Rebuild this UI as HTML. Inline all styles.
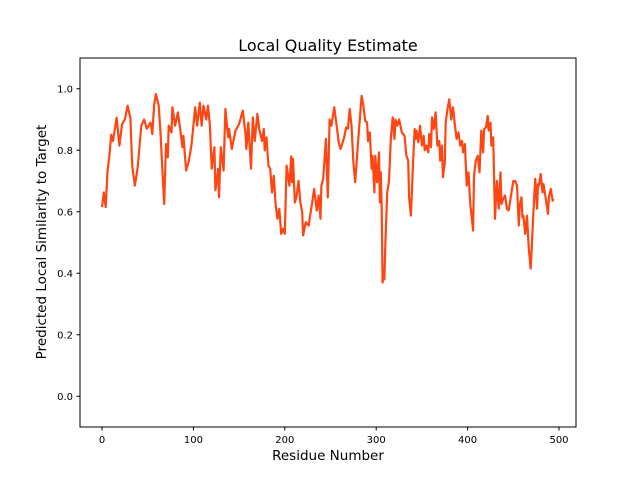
<!DOCTYPE html>
<html><head><meta charset="utf-8"><style>
body{margin:0;background:#fff;}
svg text{font-family:"DejaVu Sans","Liberation Sans",sans-serif;}
</style></head><body>
<svg id="chart" width="640" height="480" xmlns="http://www.w3.org/2000/svg">
<rect width="640" height="480" fill="#fff"/>
<text x="328" y="51" font-size="16" text-anchor="middle">Local Quality Estimate</text>
<g id="plot"></g>
<text x="328" y="460" font-size="13.5" text-anchor="middle">Residue Number</text>
<text x="46" y="242" font-size="13.5" text-anchor="middle" transform="rotate(-90 46 242)">Predicted Local Similarity to Target</text>
</svg>
<script>
const residues=[0,2,4,6,8,10,12,16,19,22,25,28,31,33,36,39,43,46,49,53,55,57,59,62,64,66,68,70,72,73,76,77,80,83,86,88,89,92,95,98,102,104,107,109,111,114,116,118,120,123,124,127,128,130,133,135,138,139,142,146,150,154,157,158,160,163,165,167,170,172,175,177,178,180,182,184,186,188,190,192,194,196,198,200,202,205,207,208,209,211,213,215,217,219,220,223,226,228,230,232,235,237,239,240,242,245,247,249,251,254,257,259,261,265,267,269,271,273,275,277,279,280,282,284,286,288,290,291,293,295,296,298,299,301,303,304,305,306,307,308,309,310,312,314,316,318,320,321,323,325,328,331,333,335,336,338,340,342,343,344,346,348,350,352,353,355,357,358,360,361,363,365,367,369,370,372,373,375,376,378,380,382,384,386,388,390,392,394,395,396,397,399,401,403,406,407,409,411,413,415,417,418,420,422,423,425,426,428,430,432,434,436,437,439,441,443,445,448,450,452,454,456,457,459,460,461,463,465,467,469,470,472,474,476,477,478,480,482,483,485,488,489,491,493,494];
const scores=[0.615,0.663,0.615,0.73,0.78,0.85,0.83,0.906,0.815,0.885,0.90,0.945,0.905,0.75,0.685,0.745,0.88,0.90,0.87,0.89,0.853,0.945,0.983,0.945,0.858,0.74,0.625,0.82,0.777,0.88,0.858,0.94,0.88,0.923,0.858,0.81,0.847,0.734,0.766,0.82,0.94,0.88,0.955,0.88,0.945,0.90,0.945,0.88,0.74,0.81,0.67,0.74,0.647,0.81,0.734,0.934,0.842,0.869,0.804,0.864,0.885,0.929,0.853,0.804,0.89,0.74,0.907,0.83,0.918,0.869,0.83,0.869,0.80,0.842,0.75,0.74,0.663,0.717,0.62,0.577,0.61,0.528,0.545,0.528,0.75,0.685,0.78,0.696,0.772,0.63,0.653,0.70,0.63,0.598,0.523,0.566,0.555,0.593,0.63,0.674,0.604,0.653,0.577,0.685,0.707,0.837,0.647,0.90,0.88,0.94,0.874,0.826,0.804,0.842,0.874,0.87,0.934,0.88,0.76,0.696,0.777,0.82,0.90,0.977,0.945,0.896,0.89,0.83,0.858,0.74,0.782,0.663,0.782,0.696,0.793,0.63,0.728,0.61,0.37,0.39,0.38,0.50,0.663,0.70,0.837,0.907,0.837,0.90,0.88,0.90,0.858,0.847,0.782,0.766,0.647,0.587,0.74,0.869,0.837,0.864,0.826,0.88,0.815,0.847,0.80,0.815,0.793,0.853,0.81,0.907,0.869,0.923,0.815,0.83,0.766,0.815,0.712,0.76,0.89,0.934,0.966,0.90,0.94,0.885,0.837,0.858,0.815,0.83,0.793,0.80,0.82,0.685,0.728,0.625,0.539,0.717,0.766,0.782,0.728,0.864,0.793,0.869,0.874,0.912,0.864,0.89,0.815,0.842,0.577,0.70,0.61,0.728,0.625,0.642,0.653,0.61,0.604,0.663,0.70,0.70,0.685,0.555,0.62,0.647,0.582,0.587,0.528,0.587,0.48,0.415,0.474,0.598,0.707,0.61,0.69,0.685,0.723,0.663,0.69,0.653,0.593,0.647,0.674,0.636,0.642,0.571,0.705];
const yTicks=[0.0,0.2,0.4,0.6,0.8,1.0];
const xTicks=[0,100,200,300,400,500];
const L=80,R=576,T=58,B=427;
const xMin=-24.1,xMax=518.6,yMin=-0.1,yMax=1.1;
function xs(v){return L+(v-xMin)/(xMax-xMin)*(R-L);}
function ys(v){return B-(v-yMin)/(yMax-yMin)*(B-T);}
const NS='http://www.w3.org/2000/svg';
const g=document.getElementById('plot');
function mk(tag,attrs){const e=document.createElementNS(NS,tag);for(const k in attrs)e.setAttribute(k,attrs[k]);g.appendChild(e);return e;}
const line=mk('polyline',{points:residues.map((r,i)=>xs(r).toFixed(1)+','+ys(scores[i]).toFixed(1)).join(' '),fill:'none',stroke:'#ff4512','stroke-width':2.2,'stroke-linejoin':'round'});


const frame=mk('rect',{x:L,y:T,width:R-L,height:B-T,fill:'none',stroke:'#000','stroke-width':1});


yTicks.forEach(v=>{
  const t=mk('line',{x1:L-3.5,x2:L,y1:ys(v),y2:ys(v),stroke:'#000'});
  
  
  const l=mk('text',{x:L-7,y:ys(v)+3.5,'font-size':10,'text-anchor':'end'});
  l.textContent=v.toFixed(1);
  
  
});
xTicks.forEach(v=>{
  const t=mk('line',{x1:xs(v),x2:xs(v),y1:B,y2:B+3.5,stroke:'#000'});
  
  
  const l=mk('text',{x:xs(v),y:B+16,'font-size':10,'text-anchor':'middle'});
  l.textContent=String(v);
  
  
});
</script>
</body></html>
